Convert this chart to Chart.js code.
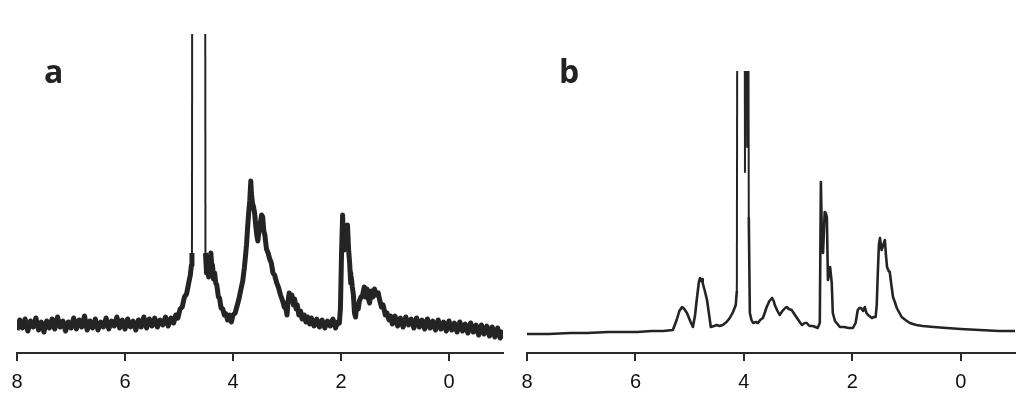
<!DOCTYPE html>
<html>
<head>
<meta charset="utf-8">
<script src="https://cdn.jsdelivr.net/npm/chart.js@4/dist/chart.umd.min.js"></script>
<style>
    body { margin: 0; background: #fff; }
    #wrap { position: relative; width: 1024px; height: 410px; }
    .panel { position: absolute; top: 0; width: 512px; height: 410px; }
    .tag { position: absolute; font: bold 32px "Open Sans", sans-serif; line-height: 32px; color: #222; }
</style>
</head>
<body>
<div id="wrap">
    <div class="panel" style="left:0"><canvas id="chartA" width="512" height="410"></canvas></div>
    <div class="panel" style="left:512px"><canvas id="chartB" width="512" height="410"></canvas></div>
    <div class="tag" style="left:44px; top:55px;">a</div>
    <div class="tag" style="left:559px; top:55px;">b</div>
</div>
<script>
// chemical shift axis (ppm), read right to left
const tickValues = [8, 6, 4, 2, 0];
const ppmMax = 8;
const ppmMin = -1;

// spectrum a: [ppm, intensity] (noisy trace, water peak runs off the top)
const specA = [
    [8.00, 23], [7.95, 33], [7.90, 25], [7.85, 34], [7.80, 22], [7.75, 32], [7.70, 26], [7.65, 35],
    [7.60, 23], [7.55, 31], [7.50, 21], [7.45, 32], [7.40, 25], [7.35, 34], [7.30, 24], [7.25, 36],
    [7.20, 26], [7.15, 32], [7.10, 22], [7.05, 31], [7.00, 25], [6.95, 35], [6.90, 24], [6.85, 33],
    [6.80, 26], [6.75, 37], [6.70, 23], [6.65, 32], [6.60, 25], [6.55, 34], [6.50, 23], [6.45, 31],
    [6.40, 26], [6.35, 35], [6.30, 24], [6.25, 32], [6.20, 27], [6.15, 36], [6.10, 25], [6.05, 33],
    [6.00, 24], [5.95, 34], [5.90, 26], [5.85, 32], [5.80, 23], [5.75, 33], [5.70, 26], [5.65, 36],
    [5.60, 25], [5.55, 34], [5.50, 27], [5.45, 35], [5.40, 26], [5.35, 33], [5.30, 28], [5.25, 36],
    [5.20, 27], [5.15, 35], [5.10, 30], [5.06, 38], [5.02, 35], [4.98, 44], [4.94, 46], [4.90, 56],
    [4.86, 59], [4.82, 70], [4.79, 78], [4.77, 88], [4.76, 100], [4.75, 700], [4.52, 700], [4.51, 100],
    [4.49, 80], [4.47, 86], [4.45, 76], [4.43, 92], [4.41, 100], [4.39, 84], [4.38, 88], [4.36, 74],
    [4.34, 80], [4.32, 70], [4.30, 68], [4.27, 56], [4.25, 55], [4.22, 45], [4.19, 44], [4.16, 38],
    [4.13, 39], [4.10, 33], [4.06, 38], [4.03, 31], [4.00, 38], [3.96, 40], [3.92, 48], [3.89, 54],
    [3.86, 62], [3.82, 72], [3.79, 85], [3.77, 96], [3.75, 108], [3.73, 125], [3.71, 140], [3.69, 152],
    [3.67, 172], [3.66, 160], [3.64, 150], [3.62, 146], [3.60, 140], [3.58, 128], [3.56, 118], [3.54, 112],
    [3.52, 122], [3.50, 128], [3.47, 138], [3.45, 136], [3.43, 122], [3.41, 118], [3.38, 104], [3.35, 100],
    [3.32, 94], [3.29, 90], [3.26, 80], [3.23, 78], [3.19, 70], [3.16, 66], [3.12, 58], [3.08, 52],
    [3.05, 46], [3.02, 44], [3.00, 38], [2.98, 52], [2.96, 60], [2.93, 52], [2.91, 58], [2.88, 48],
    [2.86, 54], [2.83, 44], [2.81, 48], [2.78, 38], [2.75, 42], [2.72, 34], [2.68, 38], [2.65, 31],
    [2.62, 36], [2.58, 29], [2.55, 35], [2.50, 27], [2.45, 34], [2.40, 26], [2.35, 33], [2.30, 25],
    [2.25, 32], [2.20, 27], [2.15, 34], [2.10, 25], [2.06, 31], [2.03, 30], [2.01, 45], [1.99, 100],
    [1.97, 138], [1.96, 120], [1.95, 112], [1.94, 103], [1.92, 110], [1.90, 120], [1.88, 128], [1.86, 104],
    [1.84, 90], [1.83, 80], [1.82, 70], [1.81, 76], [1.79, 66], [1.77, 58], [1.75, 40], [1.73, 36],
    [1.71, 48], [1.68, 44], [1.66, 52], [1.63, 56], [1.60, 58], [1.57, 66], [1.55, 56], [1.52, 64],
    [1.49, 54], [1.47, 50], [1.44, 62], [1.41, 56], [1.38, 64], [1.35, 58], [1.31, 60], [1.28, 52],
    [1.25, 46], [1.22, 48], [1.18, 38], [1.15, 40], [1.11, 33], [1.08, 37], [1.05, 29], [1.00, 37],
    [0.95, 27], [0.90, 35], [0.85, 26], [0.80, 36], [0.75, 28], [0.70, 34], [0.65, 25], [0.60, 35],
    [0.55, 26], [0.50, 33], [0.45, 24], [0.40, 34], [0.35, 25], [0.30, 32], [0.25, 23], [0.20, 33],
    [0.15, 24], [0.10, 31], [0.05, 22], [0.00, 32], [-0.05, 23], [-0.10, 30], [-0.15, 21], [-0.20, 31],
    [-0.25, 22], [-0.30, 29], [-0.35, 20], [-0.40, 30], [-0.45, 21], [-0.50, 28], [-0.55, 18], [-0.60, 28],
    [-0.65, 19], [-0.70, 27], [-0.75, 17], [-0.80, 26], [-0.85, 16], [-0.90, 25], [-0.95, 15], [-1.00, 23]
];

// spectrum b: [ppm, intensity] (cleaner trace, 3.9-4.1 doublet runs off the top)
const specB = [
    [8.00, 19], [7.60, 19], [7.20, 20], [6.89, 20], [6.50, 21], [5.97, 21], [5.70, 22], [5.49, 22],
    [5.31, 23], [5.24, 33], [5.19, 42], [5.14, 46], [5.10, 44], [5.05, 40], [4.99, 32], [4.94, 26],
    [4.90, 38], [4.87, 53], [4.83, 71], [4.81, 75], [4.79, 72], [4.77, 74], [4.76, 70], [4.72, 62],
    [4.68, 53], [4.61, 26], [4.55, 27], [4.50, 28], [4.45, 27], [4.39, 28], [4.32, 31], [4.26, 35],
    [4.20, 41], [4.15, 48], [4.13, 62], [4.11, 800], [4.00, 800], [3.98, 181], [3.96, 800], [3.94, 206],
    [3.93, 800], [3.91, 136], [3.89, 40], [3.86, 33], [3.83, 30], [3.78, 31], [3.74, 30], [3.70, 33],
    [3.65, 35], [3.61, 41], [3.58, 46], [3.53, 52], [3.48, 55], [3.45, 52], [3.43, 48], [3.38, 42],
    [3.34, 38], [3.29, 42], [3.24, 45], [3.21, 46], [3.17, 44], [3.12, 43], [3.07, 39], [3.02, 35],
    [2.97, 31], [2.93, 28], [2.88, 30], [2.84, 30], [2.79, 27], [2.73, 27], [2.68, 26], [2.64, 25],
    [2.60, 30], [2.58, 171], [2.56, 110], [2.54, 100], [2.51, 141], [2.49, 140], [2.47, 136], [2.45, 73],
    [2.43, 80], [2.41, 86], [2.38, 70], [2.36, 40], [2.32, 32], [2.29, 30], [2.23, 26], [2.15, 26],
    [2.07, 25], [1.99, 25], [1.94, 30], [1.90, 43], [1.87, 45], [1.84, 45], [1.80, 42], [1.77, 46],
    [1.74, 40], [1.71, 38], [1.64, 35], [1.60, 36], [1.57, 36], [1.55, 48], [1.53, 80], [1.51, 108],
    [1.49, 115], [1.47, 106], [1.46, 103], [1.43, 108], [1.40, 113], [1.38, 98], [1.36, 86], [1.33, 82],
    [1.31, 81], [1.28, 68], [1.25, 56], [1.21, 50], [1.18, 45], [1.13, 40], [1.09, 36], [1.02, 33],
    [0.94, 30], [0.82, 28], [0.70, 27], [0.50, 26], [0.26, 25], [0.00, 24], [-0.35, 23], [-0.70, 22],
    [-1.00, 22]
];

// plot-area height of each panel in intensity units (values above are clipped)
const yMaxA = 319;
const yMaxB = 282;

function makeSpectrum(canvasId, spec, yMax, padTop, padLeft, width, spikeWidth) {
    const ctx = document.getElementById(canvasId).getContext('2d');
    return new Chart(ctx, {
        type: 'line',
        data: {
            datasets: [{
                data: spec.map(p => ({ x: p[0], y: p[1] })),
                borderColor: '#242424',
                borderWidth: width,
                borderJoinStyle: 'round',
                pointRadius: 0,
                tension: 0,
                fill: false,
                // the tall clipped lines stay thin, like in the original trace
                segment: {
                    borderWidth: c => Math.abs(c.p1.parsed.y - c.p0.parsed.y) > 250 ? spikeWidth : width
                }
            }]
        },
        options: {
            responsive: false,
            animation: false,
            devicePixelRatio: 1,
            layout: { padding: { top: padTop, left: padLeft, right: 9, bottom: 7 } },
            plugins: { legend: { display: false }, tooltip: { enabled: false } },
            scales: {
                x: {
                    type: 'linear',
                    reverse: true,
                    min: ppmMin,
                    max: ppmMax,
                    afterBuildTicks: scale => {
                        scale.ticks = tickValues.map(v => ({ value: v }));
                    },
                    border: { display: true, color: '#2a2a2a', width: 2 },
                    grid: { drawOnChartArea: false, drawTicks: true, tickLength: 8, color: '#2a2a2a', lineWidth: 2 },
                    ticks: {
                        padding: 9,
                        color: '#111',
                        font: { family: 'Liberation Sans', size: 20 },
                        maxRotation: 0,
                        autoSkip: false
                    }
                },
                y: { display: false, min: 0, max: yMax }
            }
        }
    });
}

makeSpectrum('chartA', specA, yMaxA, 34, 17, 5, 2);
makeSpectrum('chartB', specB, yMaxB, 71, 15, 2.6, 2);
</script>
</body>
</html>
